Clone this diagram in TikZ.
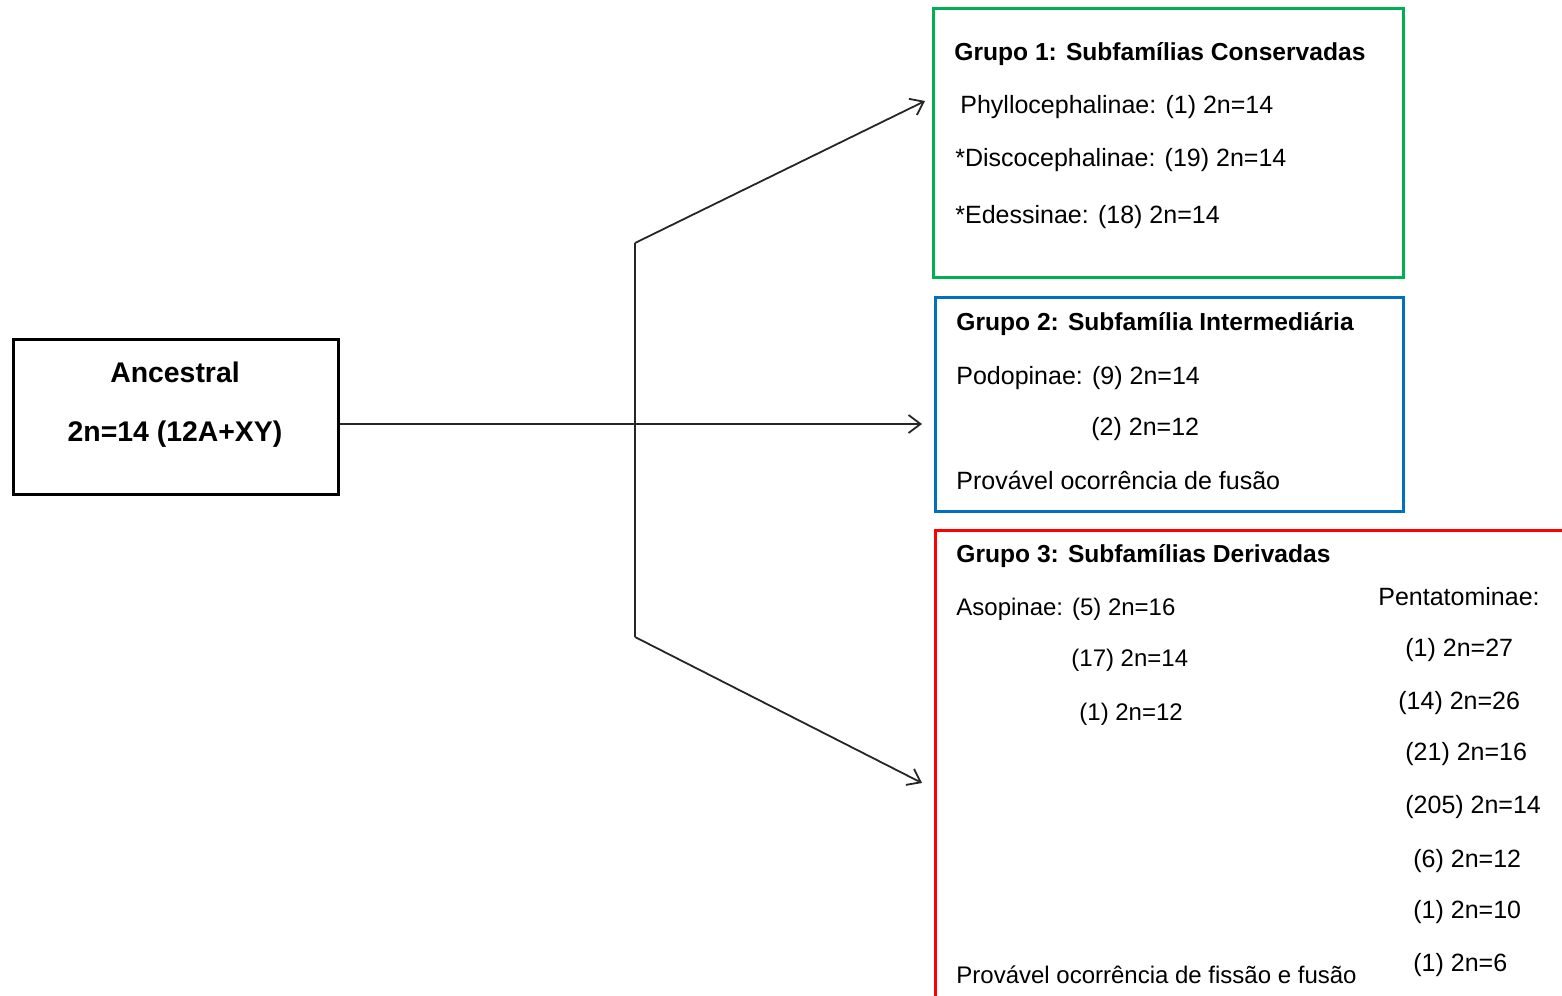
\documentclass[tikz,border=0pt]{standalone}
\usepackage{fontspec}
\setmainfont{Liberation Sans}
\usetikzlibrary{arrows.meta,fit}
\definecolor{grpgreen}{RGB}{0,176,80}
\definecolor{grpblue}{RGB}{0,112,192}
\definecolor{grpred}{RGB}{255,0,0}
\tikzset{
  boxframe/.style={draw, line width=1.5pt, inner sep=0pt, fit={#1}},
  txt/.style={anchor=west, inner sep=0pt, yshift=-1pt, font=\fontsize{12.5}{15}\selectfont},
  txtn/.style={txt, font=\fontsize{12}{15}\selectfont},
  ttl/.style={txt, font=\fontsize{12.3}{15}\selectfont\bfseries},
  anctxt/.style={inner sep=0pt, font=\fontsize{14.2}{17}\selectfont\bfseries},
  conn/.style={line width=0.9pt, draw=black!85},
  arr/.style={conn, -{Straight Barb[length=6pt,width=9pt,line width=0.9pt]}},
}
\begin{document}
\begin{tikzpicture}[x=0.5pt,y=-0.5pt]
\useasboundingbox (0,0) rectangle (1562,995);
\clip (0,0) rectangle (1562,995);
% boxes
\node[boxframe={(13,339) (338,494)}, draw=black] (anc) {};
\node[boxframe={(933,9) (1403,277)}, draw=grpgreen] (g1) {};
\node[boxframe={(935,297) (1403,511)}, draw=grpblue] (g2) {};
\node[boxframe={(935,530) (1620,1040)}, draw=grpred] (g3) {};
% ancestral text
\node[anctxt] (ancA) at (175,372) {Ancestral};
\node[anctxt] (ancB) at (175,434) {2n=14 (12A+XY)};
% group 1
\node[ttl] (g1t) at (954,52) {Grupo 1: Subfamílias Conservadas};
\node[txt] (g1a) at (960,105) {Phyllocephalinae: (1) 2n=14};
\node[txt] (g1b) at (955,158) {*Discocephalinae: (19) 2n=14};
\node[txt] (g1c) at (955,215) {*Edessinae: (18) 2n=14};
% group 2
\node[ttl] (g2t) at (956,322) {Grupo 2: Subfamília Intermediária};
\node[txt] (g2a) at (956,376) {Podopinae: (9) 2n=14};
\node[txt] (g2b) at (1091,427) {(2) 2n=12};
\node[txt] (g2c) at (956,478) {Provável ocorrência de fusão};
% group 3
\node[ttl] (g3t) at (956,554) {Grupo 3: Subfamílias Derivadas};
\node[txtn] (g3a) at (956,607) {Asopinae: (5) 2n=16};
\node[txtn] (g3b) at (1071,658) {(17) 2n=14};
\node[txtn] (g3c) at (1079,712) {(1) 2n=12};
\node[txtn] (g3d) at (956,973) {Provável ocorrência de fissão e fusão};
\node[txt] (p0) at (1378,595) {Pentatominae:};
\node[txt] (p1) at (1405,648) {(1) 2n=27};
\node[txt] (p2) at (1398,701) {(14) 2n=26};
\node[txt] (p3) at (1405,752) {(21) 2n=16};
\node[txt] (p4) at (1405,805) {(205) 2n=14};
\node[txt] (p5) at (1413,859) {(6) 2n=12};
\node[txt] (p6) at (1413,910) {(1) 2n=10};
\node[txt] (p7) at (1413,963) {(1) 2n=6};
% connectors
\coordinate (j1) at (635,243);
\coordinate (j2) at (635,637);
\coordinate (e1) at (925,101);
\coordinate (e2) at (922,424);
\coordinate (e3) at (922,783);
\draw[conn] (j1) -- (j2);
\draw[arr] (anc.east |- e2) -- (e2);
\draw[arr] (j1) -- (e1);
\draw[arr] (j2) -- (e3);
\end{tikzpicture}
\end{document}
